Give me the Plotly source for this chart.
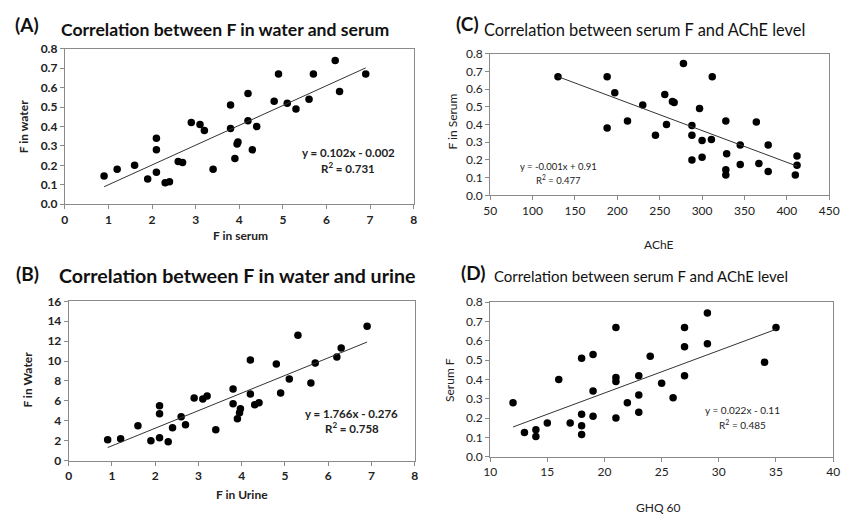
import plotly.graph_objects as go

W, H = 851, 522

# ---------- data ----------
a_serum = [0.9, 1.2, 1.6, 1.9, 2.1, 2.1, 2.1, 2.3, 2.4, 2.6, 2.7, 2.9, 3.1, 3.2, 3.4, 3.8, 3.8,
           3.9, 3.95, 3.97, 4.2, 4.2, 4.3, 4.4, 4.8, 4.9, 5.1, 5.3, 5.6, 5.7, 6.2, 6.3, 6.9]
a_water = [0.145, 0.18, 0.20, 0.13, 0.34, 0.28, 0.165, 0.11, 0.115, 0.22, 0.215, 0.42, 0.41, 0.38,
           0.18, 0.51, 0.39, 0.235, 0.31, 0.32, 0.57, 0.43, 0.28, 0.40, 0.53, 0.67, 0.52, 0.49, 0.54,
           0.67, 0.74, 0.58, 0.67]

b_urine = [0.9, 1.2, 1.6, 1.9, 2.1, 2.1, 2.1, 2.3, 2.4, 2.6, 2.7, 2.9, 3.1, 3.2, 3.4, 3.8, 3.8,
           3.9, 3.95, 3.97, 4.2, 4.2, 4.3, 4.4, 4.8, 4.9, 5.1, 5.3, 5.6, 5.7, 6.2, 6.3, 6.9]
b_water = [2.1, 2.2, 3.5, 2.0, 5.5, 4.7, 2.3, 1.9, 3.3, 4.4, 3.6, 6.3, 6.2, 6.5, 3.1, 7.2, 5.7,
           4.2, 4.8, 5.2, 10.1, 6.7, 5.6, 5.8, 9.7, 6.8, 8.2, 12.6, 7.8, 9.8, 10.4, 11.3, 13.5]

c_ache = [130, 188, 188, 197, 212, 230, 245, 256, 258, 265, 267, 278, 288, 288, 288, 297, 300,
          300, 311, 312, 328, 328, 328, 329, 345, 345, 364, 367, 378, 378, 410, 412, 412]
c_serum = [0.67, 0.67, 0.38, 0.58, 0.42, 0.51, 0.34, 0.57, 0.40, 0.53, 0.525, 0.745, 0.395, 0.34,
           0.20, 0.49, 0.31, 0.215, 0.315, 0.67, 0.42, 0.145, 0.115, 0.235, 0.285, 0.175, 0.415,
           0.18, 0.285, 0.135, 0.115, 0.222, 0.17]

d_ghq = [12, 13, 14, 14, 15, 16, 17, 18, 18, 18, 18, 19, 19, 19, 21, 21, 21, 21, 22, 23, 23, 23,
         24, 25, 26, 27, 27, 27, 29, 29, 34, 35]
d_serum = [0.28, 0.125, 0.14, 0.105, 0.175, 0.40, 0.175, 0.51, 0.22, 0.16, 0.115, 0.53, 0.34, 0.21,
           0.67, 0.41, 0.39, 0.20, 0.28, 0.42, 0.32, 0.23, 0.52, 0.38, 0.305, 0.67, 0.57, 0.42,
           0.745, 0.585, 0.49, 0.67]

# trendline coefficients (slope, intercept) as drawn
a_fit = (0.102, -0.002)
b_fit = (1.766, -0.276)
c_fit = (-0.00179, 0.903)
d_fit = (0.022, -0.11)

panel_labels = ["(A)", "(B)", "(C)", "(D)"]
titles = ["Correlation between F in water and serum",
          "Correlation between F in water and urine",
          "Correlation between serum F and AChE level",
          "Correlation between serum F and AChE level"]
x_titles = ["F in serum", "F in Urine", "AChE", "GHQ 60"]
y_titles = ["F in water", "F in Water", "F in Serum", "Serum F"]
eq_texts = [("y = 0.102x - 0.002", "R<sup>2</sup> = 0.731"),
            ("y = 1.766x - 0.276", "R<sup>2</sup> = 0.758"),
            ("y = -0.001x + 0.91", "R<sup>2</sup> = 0.477"),
            ("y = 0.022x - 0.11", "R<sup>2</sup> = 0.485")]

FONT = "Lato"

def px(x):
    return x / W

def py(y):
    return 1 - y / H

panels = [
    dict(x=a_serum, y=a_water, fit=a_fit, box=(59, 415, 42, 202), xr=(0, 8), xd=1, yr=(0, 0.8), yd=0.1,
         bold=True, lab=(20, 17), tit=(53, 22), tsize=17.6, xt=(238, 234), yt=(17, 122),
         eq=(348, 149, 164), esize=11.5, ytf=".1f"),
    dict(x=b_urine, y=b_water, fit=b_fit, box=(63, 416, 302, 466), xr=(0, 8), xd=1, yr=(0, 16), yd=2,
         bold=True, lab=(21, 273), tit=(51, 275), tsize=19.6, xt=(240, 501), yt=(21, 383),
         eq=(352, 417, 432), esize=11.5, ytf="d"),
    dict(x=c_ache, y=c_serum, fit=c_fit, box=(493, 839, 47, 193), xr=(50, 450), xd=50, yr=(0, 0.8), yd=0.1,
         bold=False, lab=(470, 16), tit=(485, 22), tsize=16.4, xt=(665, 243), yt=(455, 117),
         eq=(563, 163, 177), esize=9.5, ytf=".1f"),
    dict(x=d_ghq, y=d_serum, fit=d_fit, box=(493, 843, 303, 462), xr=(10, 40), xd=5, yr=(0, 0.8), yd=0.1,
         bold=False, lab=(476, 272), tit=(495, 276), tsize=15.0, xt=(665, 514), yt=(452, 383),
         eq=(751, 414, 429), esize=10, ytf=".1f"),
]

fig = go.Figure()
annotations = []
layout_axes = {}

for i, p in enumerate(panels):
    n = i + 1
    xa = "x" if n == 1 else f"x{n}"
    ya = "y" if n == 1 else f"y{n}"
    x0, x1, yt0, yb1 = p["box"]
    tickfont = dict(family=FONT, size=12, color="#222", weight=700 if p["bold"] else 400)
    axcommon = dict(showgrid=False, zeroline=False, showline=True, mirror=True,
                    linecolor="#8a8a8a", linewidth=1, ticks="outside", ticklen=4,
                    tickcolor="#8a8a8a", tickfont=tickfont)
    layout_axes["xaxis" if n == 1 else f"xaxis{n}"] = dict(
        domain=[px(x0), px(x1)], range=list(p["xr"]), dtick=p["xd"], tick0=p["xr"][0],
        anchor=ya, **axcommon)
    layout_axes["yaxis" if n == 1 else f"yaxis{n}"] = dict(
        domain=[py(yb1), py(yt0)], range=list(p["yr"]), dtick=p["yd"], tick0=0,
        anchor=xa, tickformat=p["ytf"], **axcommon)

    fig.add_trace(go.Scatter(x=p["x"], y=p["y"], mode="markers", xaxis=xa, yaxis=ya,
                             marker=dict(color="black", size=7.5), showlegend=False))
    s, b = p["fit"]
    xmin, xmax = min(p["x"]), max(p["x"])
    fig.add_trace(go.Scatter(x=[xmin, xmax], y=[s * xmin + b, s * xmax + b], mode="lines",
                             xaxis=xa, yaxis=ya, line=dict(color="#333", width=1),
                             showlegend=False))

    tfont = dict(family=FONT, size=p["tsize"], color="#111", weight=700 if p["bold"] else 400)
    annotations.append(dict(text=panel_labels[i], x=px(p["lab"][0]), y=py(p["lab"][1]),
                            xref="paper", yref="paper", showarrow=False, xanchor="center",
                            yanchor="middle", font=dict(family=FONT, size=19, color="#111", weight=700)))
    annotations.append(dict(text=titles[i], x=px(p["tit"][0]), y=py(p["tit"][1]),
                            xref="paper", yref="paper", showarrow=False, xanchor="left",
                            yanchor="middle", font=tfont))
    lfont = dict(family=FONT, size=12, color="#222", weight=700 if p["bold"] else 400)
    annotations.append(dict(text=x_titles[i], x=px(p["xt"][0]), y=py(p["xt"][1]),
                            xref="paper", yref="paper", showarrow=False, xanchor="center",
                            yanchor="middle", font=lfont))
    annotations.append(dict(text=y_titles[i], x=px(p["yt"][0]), y=py(p["yt"][1]),
                            xref="paper", yref="paper", showarrow=False, xanchor="center",
                            yanchor="middle", textangle=-90, font=lfont))
    efont = dict(family=FONT, size=p["esize"], color="#222", weight=700 if p["bold"] else 400)
    ex, ey1, ey2 = p["eq"]
    annotations.append(dict(text=eq_texts[i][0], x=px(ex), y=py(ey1), xref="paper", yref="paper",
                            showarrow=False, xanchor="center", yanchor="middle", font=efont))
    annotations.append(dict(text=eq_texts[i][1], x=px(ex), y=py(ey2), xref="paper", yref="paper",
                            showarrow=False, xanchor="center", yanchor="middle", font=efont))

fig.update_layout(width=W, height=H, margin=dict(l=0, r=0, t=0, b=0),
                  paper_bgcolor="white", plot_bgcolor="white",
                  annotations=annotations, **layout_axes)

fig.write_html("out.html", config={"displayModeBar": False},
               post_script="document.body.style.margin='0';document.body.style.overflow='hidden';")
